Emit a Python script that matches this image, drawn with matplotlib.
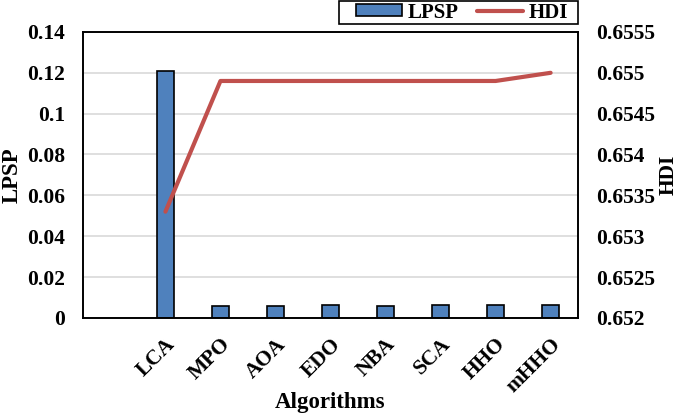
import numpy as np, matplotlib.pyplot as plt
from matplotlib import rcParams
from matplotlib.ticker import FuncFormatter
from matplotlib.patches import Rectangle

rcParams['font.family'] = 'Liberation Serif'
rcParams['font.weight'] = 'bold'
rcParams['axes.labelweight'] = 'bold'
rcParams['font.size'] = 15.5

algorithms = ['', 'LCA', 'MPO', 'AOA', 'EDO', 'NBA', 'SCA', 'HHO', 'mHHO']
lpsp = [np.nan, 0.1208, 0.0060, 0.0060, 0.0064, 0.0060, 0.0064, 0.0064, 0.0064]
hdi = [np.nan, 0.65330, 0.65490, 0.65490, 0.65490, 0.65490, 0.65490, 0.65490, 0.65500]

fig = plt.figure(figsize=(6.85, 4.15), dpi=100)
ax = fig.add_axes([0.121, 0.234, 0.723, 0.689])
ax2 = ax.twinx()

x = np.arange(len(algorithms))
ax.bar(x, lpsp, width=0.32, color='#4F81BD', edgecolor='black', linewidth=1.2, label='LPSP', zorder=2)
ax2.plot(x, hdi, color='#C0504D', linewidth=3, solid_capstyle='round', label='HDI')

ax.set_xlim(-0.5, len(algorithms) - 0.5)
ax.set_ylim(0, 0.14)
ax.set_yticks(np.arange(0, 0.141, 0.02))
ax.yaxis.set_major_formatter(FuncFormatter(lambda v, p: '%g' % round(v, 4)))
ax2.set_ylim(0.652, 0.6555)
ax2.set_yticks(np.arange(0.652, 0.65551, 0.0005))
ax2.yaxis.set_major_formatter(FuncFormatter(lambda v, p: '%g' % round(v, 5)))

ax.grid(axis='y', color='#D9D9D9', linewidth=1.2)
ax.set_axisbelow(True)

ax.set_xticks(x, algorithms, rotation=45, ha='right', rotation_mode='anchor')
ax.tick_params(axis='x', length=0, pad=12)
ax.tick_params(axis='y', length=0, pad=13)
ax2.tick_params(axis='y', length=0, pad=13)

for a in (ax, ax2):
    for s in a.spines.values():
        s.set_linewidth(1.2)

ax.set_xlabel('Algorithms', fontsize=16.5)
ax.xaxis.set_label_coords(0.5, -0.26)
ax.set_ylabel('LPSP', fontsize=16.5, labelpad=3)
ax2.set_ylabel('HDI', fontsize=15.5)
ax2.yaxis.set_label_coords(1.163, 0.5)

# legend box above the plot, right-aligned with the axes
fig.patches.append(Rectangle((339 / 685, 1 - 24 / 415), 239 / 685, 23 / 415,
                             transform=fig.transFigure, facecolor='white',
                             edgecolor='black', linewidth=1.2))
h1, l1 = ax.get_legend_handles_labels()
h2, l2 = ax2.get_legend_handles_labels()
fig.legend(h1 + h2, l1 + l2, ncol=2, loc='center', bbox_to_anchor=(462 / 685, 1 - 12.5 / 415),
           frameon=False, fontsize=15, handlelength=2.2, handleheight=0.55,
           columnspacing=0.9, handletextpad=0.25, borderpad=0, borderaxespad=0)

plt.savefig('out.png', dpi=100)
